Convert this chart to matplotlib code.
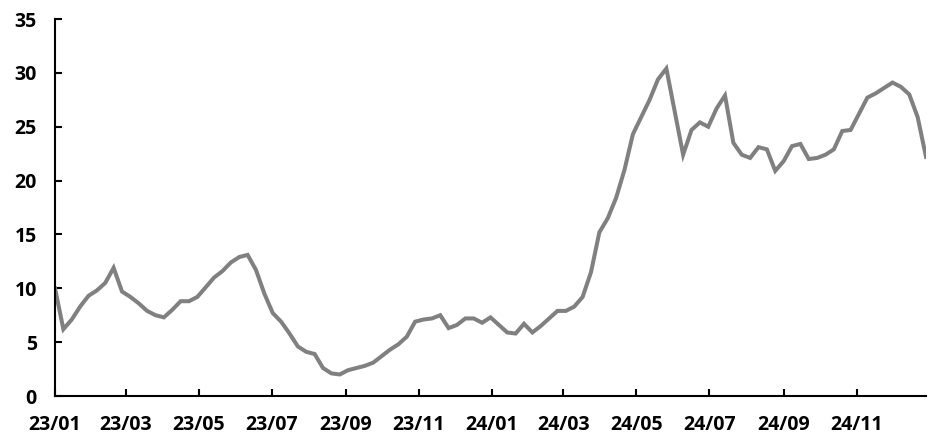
import numpy as np
import pandas as pd
import matplotlib
matplotlib.use("Agg")
import matplotlib.pyplot as plt
import matplotlib.dates as mdates

# 周度数据, 2023-01 ~ 2024-12
dates = pd.date_range("2023-01-01", periods=105, freq="7D")
values = [
    10.0, 6.2, 7.1, 8.3, 9.3, 9.8, 10.5, 11.9, 9.7, 9.2,
    8.6, 7.9, 7.5, 7.3, 8.0, 8.8, 8.8, 9.2, 10.1, 11.0,
    11.6, 12.4, 12.9, 13.1, 11.7, 9.5, 7.7, 6.9, 5.8, 4.6,
    4.1, 3.9, 2.6, 2.1, 2.0, 2.4, 2.6, 2.8, 3.1, 3.7,
    4.3, 4.8, 5.5, 6.9, 7.1, 7.2, 7.5, 6.3, 6.6, 7.2,
    7.2, 6.8, 7.3, 6.6, 5.9, 5.8, 6.7, 5.9, 6.5, 7.2,
    7.9, 7.9, 8.3, 9.2, 11.5, 15.2, 16.5, 18.4, 21.0, 24.3,
    25.9, 27.5, 29.4, 30.4, 26.4, 22.4, 24.7, 25.4, 25.0, 26.7,
    27.9, 23.5, 22.4, 22.1, 23.1, 22.9, 20.9, 21.8, 23.2, 23.4,
    22.0, 22.1, 22.4, 22.9, 24.6, 24.7, 26.2, 27.7, 28.1, 28.6,
    29.1, 28.7, 28.0, 25.9, 22.2,
]
y_ticks = [0, 5, 10, 15, 20, 25, 30, 35]

plt.rcParams['font.family'] = ['Open Sans', 'DejaVu Sans']
plt.rcParams['font.weight'] = 'bold'

fig = plt.figure(figsize=(9.33, 4.41), dpi=100)
ax = fig.add_axes([55 / 933, 45 / 441, 871 / 933, 377 / 441])

ax.plot(dates, values, color="#808080", linewidth=2.9, solid_joinstyle="miter")

ax.set_ylim(0, 35)
ax.set_yticks(y_ticks)
ax.set_xlim(dates[0], dates[-1])
ax.xaxis.set_major_locator(mdates.MonthLocator(bymonth=[1, 3, 5, 7, 9, 11]))
ax.xaxis.set_major_formatter(mdates.DateFormatter("%y/%m"))

for side in ["top", "right"]:
    ax.spines[side].set_visible(False)
for side in ["left", "bottom"]:
    ax.spines[side].set_linewidth(1.5)
    ax.spines[side].set_color("black")

ax.tick_params(axis="both", direction="in", length=5, width=1.5,
               labelsize=14, colors="black")
ax.tick_params(axis="x", pad=14)
ax.tick_params(axis="y", pad=13)
for lab in ax.get_xticklabels() + ax.get_yticklabels():
    lab.set_fontweight("bold")

fig.savefig("out.png", dpi=100)
